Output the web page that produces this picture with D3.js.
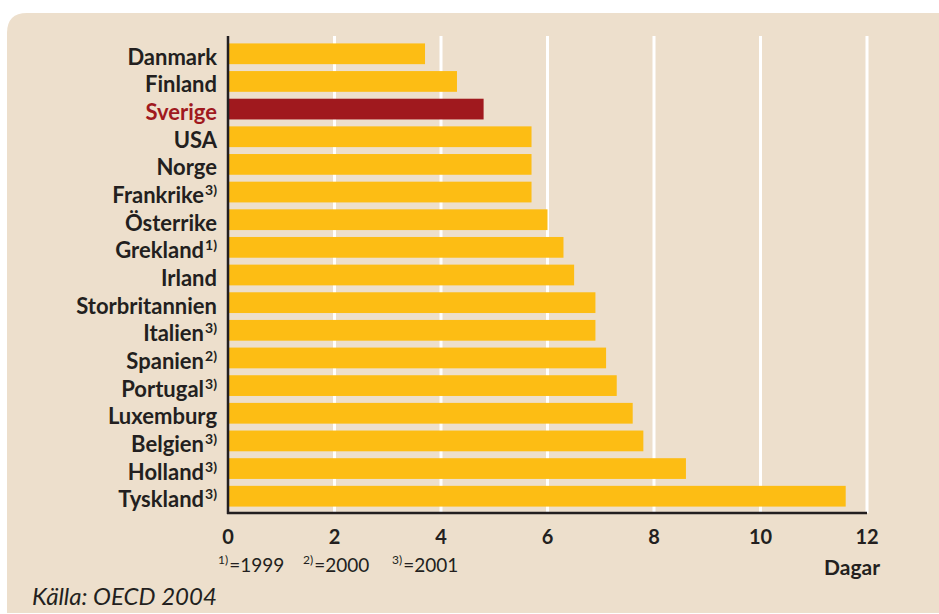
<!DOCTYPE html>
<html>
<head>
<meta charset="utf-8">
<script src="https://cdn.jsdelivr.net/npm/d3@7"></script>
<style>
  body { margin: 0; background: #fff; }
  text { font-family: "Lato", "Open Sans", sans-serif; fill: #231f20; }
</style>
</head>
<body>
<svg id="chart" width="939" height="614"></svg>
<script>
var countries = ["Danmark", "Finland", "Sverige", "USA", "Norge", "Frankrike", "Österrike", "Grekland",
    "Irland", "Storbritannien", "Italien", "Spanien", "Portugal", "Luxemburg", "Belgien", "Holland", "Tyskland"];
var notes = ["", "", "", "", "", "3)", "", "1)", "", "", "3)", "2)", "3)", "", "3)", "3)", "3)"];
var days = [3.7, 4.3, 4.8, 5.7, 5.7, 5.7, 6.0, 6.3, 6.5, 6.9, 6.9, 7.1, 7.3, 7.6, 7.8, 8.6, 11.6];
var ticks = [0, 2, 4, 6, 8, 10, 12];
var footnotes = [["1)", "=1999"], ["2)", "=2000"], ["3)", "=2001"]];

var svg = d3.select("#chart");

// panel
svg.append("path")
    .attr("d", "M7,613 L7,33 Q7,13 27,13 L939,13 L939,613 Z")
    .attr("fill", "#eddfcc");

var x = d3.scaleLinear().domain([0, 12]).range([228, 867]);
var y = d3.scaleBand().domain(countries).range([36.5, 513.5]).padding(0.25);

// grid
svg.append("g")
    .selectAll("line")
    .data(ticks.slice(1))
    .enter()
    .append("line")
    .attr("x1", d => x(d)).attr("x2", d => x(d))
    .attr("y1", 36).attr("y2", 513)
    .attr("stroke", "#fff")
    .attr("stroke-width", 3);

// bars
svg.append("g")
    .selectAll("rect")
    .data(countries)
    .enter()
    .append("rect")
    .attr("x", x(0))
    .attr("y", d => y(d))
    .attr("width", (d, i) => x(days[i]) - x(0))
    .attr("height", y.bandwidth())
    .attr("fill", d => d == "Sverige" ? "#a0191e" : "#fdbd14");

// axis lines
svg.append("line")
    .attr("x1", x(0)).attr("x2", x(0))
    .attr("y1", 36).attr("y2", 514)
    .attr("stroke", "#231f20").attr("stroke-width", 2.5);
svg.append("line")
    .attr("x1", x(0) - 1).attr("x2", x(12))
    .attr("y1", 513).attr("y2", 513)
    .attr("stroke", "#231f20").attr("stroke-width", 2.5);

// category labels, with footnote marks
var lab = svg.append("g")
    .selectAll("text")
    .data(countries)
    .enter()
    .append("text")
    .attr("x", 217)
    .attr("y", d => y(d) + y.bandwidth() / 2 + 11)
    .attr("text-anchor", "end")
    .attr("font-size", 22)
    .attr("font-weight", "bold")
    .style("fill", d => d == "Sverige" ? "#a0191e" : "#231f20");
lab.append("tspan").text(d => d);
lab.append("tspan")
    .attr("font-size", 14)
    .attr("dx", 1)
    .attr("dy", -8)
    .text((d, i) => notes[i]);

// tick labels
svg.append("g")
    .selectAll("text")
    .data(ticks)
    .enter()
    .append("text")
    .attr("x", d => x(d))
    .attr("y", 544)
    .attr("text-anchor", "middle")
    .attr("font-size", 20)
    .attr("font-weight", "bold")
    .text(d => d);

svg.append("text")
    .attr("x", 880).attr("y", 575)
    .attr("text-anchor", "end")
    .attr("font-size", 21)
    .attr("font-weight", "bold")
    .text("Dagar");

// footnotes
var fn = svg.append("g");
footnotes.forEach(function (f, i) {
    var t = fn.append("text")
        .attr("x", [218, 303, 392][i]).attr("y", 572)
        .attr("font-size", 19);
    t.append("tspan").attr("font-size", 12).attr("dy", -8).text(f[0]);
    t.append("tspan").attr("dy", 8).attr("dx", 1).text(f[1]);
});

svg.append("text")
    .attr("x", 32).attr("y", 605)
    .attr("font-size", 24)
    .attr("font-style", "italic")
    .text("Källa: OECD 2004");
</script>
</body>
</html>
